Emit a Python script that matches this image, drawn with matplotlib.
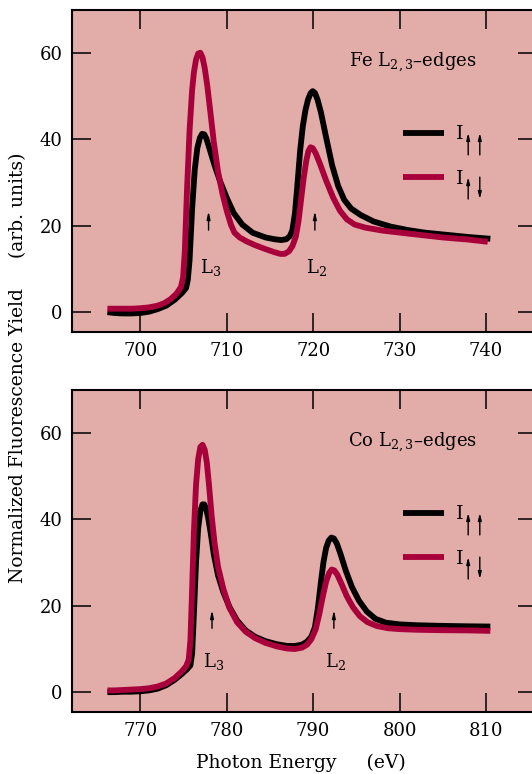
import matplotlib
matplotlib.use("Agg")
import matplotlib.pyplot as plt

# ---------------- data ----------------
fe_E_up = [696.2, 697, 698, 699, 700, 701, 702, 703, 704, 704.8, 705.3, 705.5, 705.7, 706.0,
           706.3, 706.6, 706.9, 707.15, 707.4, 707.65, 707.9, 708.2, 708.6, 709.2, 710,
           710.8, 711.8, 713, 714.5, 715.5, 716.3, 716.9, 717.3, 717.6, 717.9, 718.2,
           718.5, 718.8, 719.1, 719.4, 719.7, 719.95, 720.2, 720.5, 720.9, 721.5, 722.2,
           722.9, 723.6, 724.4, 725.5, 727, 729, 731, 733, 736, 738, 740.5]
fe_I_up = [0.0, -0.2, -0.3, -0.3, -0.2, 0.1, 0.7, 1.5, 2.9, 4.4, 5.6, 7.5, 12, 24,
           33, 38, 40.4, 41.3, 41.2, 40.2, 38.6, 36.6, 34, 30.5, 26.5,
           23, 20.3, 18.4, 17.3, 16.9, 16.7, 16.9, 17.6, 19, 23, 30,
           37.5, 43, 46.7, 49.2, 50.7, 51.2, 50.8, 49.3, 46.3, 40.5, 34,
           29.2, 26, 24, 22.5, 21, 19.8, 19.0, 18.4, 17.8, 17.4, 17.0]

fe_E_dn = [696.2, 697, 698, 699, 700, 701, 702, 702.8, 703.5, 704.2, 704.7, 704.95, 705.15,
           705.4, 705.7, 706.0, 706.2, 706.45, 706.7, 706.95, 707.2, 707.45, 707.75, 708.1,
           708.5, 709, 709.5, 710, 710.5, 710.9, 711.5, 712.3, 713.3, 714.5, 715.5, 716.2,
           716.7, 717.2, 717.6, 718.0, 718.3, 718.6, 718.9, 719.2, 719.45, 719.7, 719.95,
           720.3, 720.8, 721.5, 722.3, 723.1, 723.9, 724.8, 726, 728, 731, 735, 738, 740.2]
fe_I_dn = [0.8, 0.8, 0.8, 0.8, 0.9, 1.1, 1.5, 2.1, 3.0, 4.3, 5.8, 8, 14,
           28, 42, 51.5, 55.5, 58.5, 59.9, 60.1, 59, 56.6, 52.5, 46.5,
           39.5, 32.5, 27.5, 23.5, 20.2, 18.4, 17.3, 16.4, 15.5, 14.6, 13.9, 13.5,
           13.5, 14.1, 15.3, 17.5, 21, 26, 31, 35, 37.3, 38.2, 38.0,
           36.8, 34.3, 30.5, 26.6, 23.5, 21.5, 20.3, 19.6, 18.9, 18.2, 17.3, 16.8, 16.3]

co_E_up = [766.2, 767, 768, 769, 770, 771, 772, 773, 774, 774.8, 775.4, 775.8, 776.0,
           776.2, 776.45, 776.7, 776.95, 777.2, 777.4, 777.6, 777.85, 778.15, 778.5,
           779, 779.6, 780.3, 781.2, 782.2, 783.3, 784.5, 785.8, 787, 787.9, 788.7,
           789.3, 789.8, 790.2, 790.55, 790.9, 791.2, 791.5, 791.8, 792.1, 792.4, 792.75,
           793.2, 793.8, 794.5, 795.3, 796.2, 797.2, 798.4, 800, 802, 805, 808, 810.5]
co_I_up = [0.0, 0.0, 0.1, 0.1, 0.2, 0.4, 0.8, 1.6, 2.9, 4.2, 5.3, 6.2, 9,
           18, 30, 38, 42, 43.5, 43.5, 42.6, 40.5, 36.8, 32,
           27, 23.2, 19.8, 16.6, 14.3, 12.8, 11.8, 11.1, 10.7, 10.7, 11.0,
           11.7, 12.9, 15, 19.5, 25.5, 30.2, 33.4, 35.1, 35.8, 35.6, 34.4,
           31.8, 28, 24.3, 21.2, 18.7, 17.0, 16.1, 15.7, 15.5, 15.35, 15.25, 15.2]

co_E_dn = [766.2, 767, 768, 769, 770, 771, 772, 773, 774, 774.8, 775.3, 775.6, 775.8,
           776.0, 776.2, 776.45, 776.7, 776.95, 777.2, 777.45, 777.7, 777.95, 778.25,
           778.6, 779, 779.6, 780.3, 781.2, 782.2, 783.3, 784.5, 785.8, 787, 787.9,
           788.7, 789.3, 789.8, 790.3, 790.7, 791.1, 791.5, 791.85, 792.15, 792.45,
           792.8, 793.3, 793.9, 794.6, 795.4, 796.3, 797.4, 798.7, 800, 802, 805, 808, 810.5]
co_I_dn = [0.4, 0.4, 0.5, 0.6, 0.7, 0.9, 1.3, 2.0, 3.3, 4.8, 6.0, 7.5, 12,
           24, 37, 48, 54, 56.8, 57.3, 56.2, 53.2, 48, 41,
           34.5, 29, 24, 19.6, 16.2, 14.0, 12.5, 11.4, 10.6, 10.1, 10.0,
           10.3, 11.0, 12.3, 14.6, 18, 22, 25.6, 27.6, 28.4, 28.2, 27.2,
           25, 22.2, 19.7, 17.6, 16.2, 15.3, 14.8, 14.6, 14.45, 14.35, 14.3, 14.2]

fe_xticks = [700, 710, 720, 730, 740]
co_xticks = [770, 780, 790, 800, 810]
yticks = [0, 20, 40, 60]

fe_title = "Fe L$_{2,3}$\u2013edges"
co_title = "Co L$_{2,3}$\u2013edges"
legend_labels = ["I", "I"]
# legend subscript arrow directions (second spin): up/up and up/down
legend_spins = [("up", "up"), ("up", "down")]

fe_edges = [(707.9, "L$_3$"), (720.2, "L$_2$")]
co_edges = [(778.3, "L$_3$"), (792.4, "L$_2$")]

# ---------------- style ----------------
plt.rcParams['font.family'] = ['DejaVu Serif']
plt.rcParams['mathtext.fontset'] = 'dejavuserif'

BG = '#e2aca8'
RED = '#a8003a'
BLK = '#000000'
LW = 4.2
FS = 13

fig = plt.figure(figsize=(5.32, 7.74), dpi=100)
fig.patch.set_facecolor('white')

W = 465 / 532
H = 322 / 774
ax1 = fig.add_axes([72 / 532, 1 - 332 / 774, W, H])
ax2 = fig.add_axes([72 / 532, 1 - 712 / 774, W, H])


def style(ax, E_up, I_up, E_dn, I_dn, xticks, xlim, title, edges, arrow_y, label_y):
    ax.set_facecolor(BG)
    l1, = ax.plot(E_up, I_up, color=BLK, lw=LW, solid_capstyle='butt',
                  solid_joinstyle='round', zorder=3)
    l2, = ax.plot(E_dn, I_dn, color=RED, lw=LW, solid_capstyle='butt',
                  solid_joinstyle='round', zorder=4)
    ax.set_xlim(*xlim)
    ax.set_ylim(-4.6, 70)
    ax.set_xticks(xticks)
    ax.set_yticks(yticks)
    ax.tick_params(direction='in', top=True, right=True, length=14, width=1.1,
                   labelsize=FS, pad=7)
    for s in ax.spines.values():
        s.set_linewidth(1.5)
    ax.text(0.733, 0.838, title, transform=ax.transAxes, ha='center', va='center',
            fontsize=FS)
    for E, lab in edges:
        ax.annotate('', xy=(E, arrow_y[1]), xytext=(E, arrow_y[0]),
                    arrowprops=dict(arrowstyle='-|>,head_length=0.45,head_width=0.1',
                                    color='black', lw=1.0, shrinkA=0, shrinkB=0))
        ax.text(E + 0.2, label_y, lab, ha='center', va='center', fontsize=FS)
    ax.legend([l1, l2], legend_labels, loc='upper left',
              bbox_to_anchor=(0.69, 0.672), frameon=False, fontsize=FS + 1,
              handlelength=2.15, handletextpad=0.62, labelspacing=1.35,
              borderpad=0)
    # spin arrows (subscripts of the legend labels)
    rows = [(0.55, 0.618), (0.413, 0.481)]
    for (lo, hi), spins in zip(rows, legend_spins):
        for xf, sp in zip((0.852, 0.877), spins):
            a, b = (lo, hi) if sp == "up" else (hi, lo)
            ax.annotate('', xy=(xf, b), xytext=(xf, a), xycoords='axes fraction',
                        arrowprops=dict(arrowstyle='-|>,head_length=0.4,head_width=0.1',
                                        color='black', lw=1.0, shrinkA=0, shrinkB=0))


style(ax1, fe_E_up, fe_I_up, fe_E_dn, fe_I_dn, fe_xticks, (692.1, 745.9), fe_title,
      fe_edges, (19.0, 23.4), 10.4)
style(ax2, co_E_up, co_I_up, co_E_dn, co_I_dn, co_xticks, (762.1, 815.9), co_title,
      co_edges, (14.8, 19.0), 7.2)

fig.text(0.034, 0.525, "Normalized Fluorescence Yield     (arb. units)", rotation=90,
         ha='center', va='center', fontsize=FS + 0.5)
fig.text(0.565, 0.015, "Photon Energy     (eV)", ha='center', va='center',
         fontsize=FS + 0.5)

fig.savefig('out.png', dpi=100, facecolor='white')
